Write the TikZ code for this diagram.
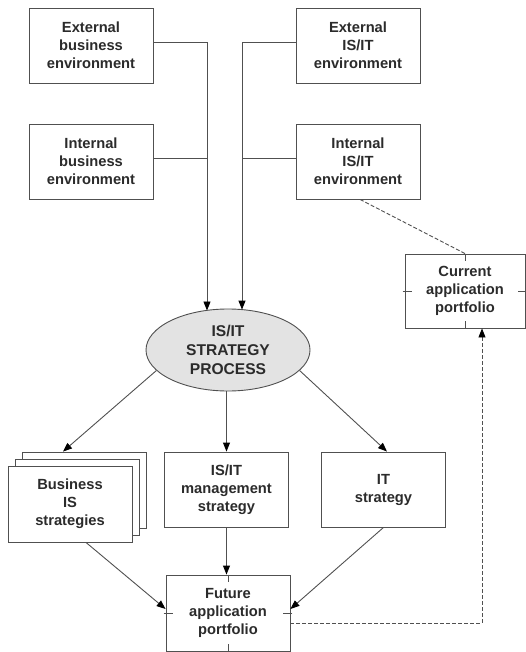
\documentclass[tikz,border=0pt]{standalone}
\usepackage{fontspec}
\setmainfont{Liberation Sans}
\usetikzlibrary{arrows.meta,shapes.geometric,calc}
\definecolor{ln}{HTML}{505050}
\definecolor{tx}{HTML}{2B2B2B}
\begin{document}
\begin{tikzpicture}[x=1pt,y=-1pt,
  rbox/.style={draw=ln, line width=0.9pt, fill=white, minimum width=124pt, minimum height=75pt,
    align=center, text=tx, font=\fontsize{14.7}{18}\selectfont\bfseries, inner sep=0pt},
  plainbox/.style={draw=ln, line width=0.9pt, fill=white, minimum width=124pt, minimum height=76pt, inner sep=0pt},
  conn/.style={draw=ln, line width=0.9pt},
  arr/.style={conn, -{Triangle[length=9pt,width=7pt,color=black]}},
  dsh/.style={draw=ln, line width=0.9pt, dash pattern=on 4pt off 2pt},
  tk/.style={draw=ln, line width=0.9pt}]
\useasboundingbox (0,0) rectangle (526,652);

% top boxes
\node[rbox] (eb) at (91,45.5) {External\\business\\environment};
\node[rbox] (ib) at (91,161.5) {Internal\\business\\environment};
\node[rbox] (ei) at (358,45.5) {External\\IS/IT\\environment};
\node[rbox] (ii) at (358,161.5) {Internal\\IS/IT\\environment};

% process ellipse
\node[ellipse, draw=ln, line width=0.9pt, fill=gray!22, minimum width=164pt, minimum height=82pt,
  inner sep=0pt, align=center, text=tx, font=\fontsize{15.6}{18.7}\selectfont\bfseries]
  (proc) at (228,350) {IS/IT\\STRATEGY\\PROCESS};

% current application portfolio
\node[rbox, minimum width=120pt, minimum height=74pt] (cur) at (465,291) {Current\\application\\portfolio};

% business IS strategies (stacked)
\node[plainbox] (bis3) at (84,490) {};
\node[plainbox] (bis2) at (77,497) {};
\node[rbox, minimum height=76pt] (bis) at (70,504) {Business\\IS\\strategies};

\node[rbox] (mgmt) at (226.5,489.5) {IS/IT\\management\\strategy};
\node[rbox] (its) at (383.5,489.5) {IT\\strategy};

\node[rbox, minimum height=76pt] (fut) at (228,613) {Future\\application\\portfolio};

% ticks on current / future boxes
\foreach \n in {cur,fut}{
  \draw[tk] (\n.north) -- ++(0,7);
  \draw[tk] (\n.south) -- ++(0,-7);
  \draw[tk] ([xshift=-2pt]\n.west) -- ++(9,0);
  \draw[tk] ([xshift=2pt]\n.east) -- ++(-9,0);
}

% inputs into the process
\coordinate (inL) at (207,310.5);
\coordinate (inR) at (242,309.6);
\coordinate (ebE) at ([yshift=3pt]eb.east);
\coordinate (ibE) at ([yshift=3pt]ib.east);
\coordinate (eiW) at ([yshift=3pt]ei.west);
\coordinate (iiW) at ([yshift=3pt]ii.west);
\draw[arr] (ebE) -| (inL);
\draw[conn] (ibE) -- (ibE -| inL);
\draw[arr] (eiW) -| (inR);
\draw[conn] (iiW) -- (iiW -| inR);

% dashed links
\draw[dsh] ([xshift=2pt]ii.south) -- (cur.north);
\coordinate (futE) at ([yshift=-10pt]fut.east);
\coordinate (curS) at ([xshift=17pt]cur.south);
\draw[dsh, -{Triangle[length=9pt,width=7pt,color=black]}] (futE) -| (curS);

% outputs of the process
\draw[arr] (proc.196) -- ([xshift=-21pt]bis3.north);
\draw[arr] (proc.south -| mgmt.north) -- (mgmt.north);
\draw[arr] (proc.344) -- ([xshift=3.5pt]its.north);

% into the future portfolio
\draw[arr] ([xshift=16pt]bis.south) -- ([yshift=4pt]fut.west);
\draw[arr] (mgmt.south) -- (mgmt.south |- fut.north);
\draw[arr] (its.south) -- ([yshift=4pt]fut.east);
\end{tikzpicture}
\end{document}
